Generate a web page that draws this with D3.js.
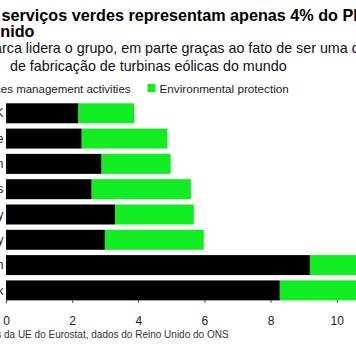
<!DOCTYPE html>
<html>
<head>
<meta charset="utf-8">
<script src="https://cdn.jsdelivr.net/npm/d3@7"></script>
<style>
  html, body { margin: 0; padding: 0; background: #fff; overflow: hidden; }
  svg { display: block; font-family: "Liberation Sans", Arial, sans-serif; }
</style>
</head>
<body>
<svg id="chart" width="356" height="364"></svg>
<script>
// ---- data ----
const categories = ["UK", "France", "Spain", "Netherlands", "Germany", "Italy", "Sweden", "Denmark"];
const resourceMgmt = [2.19, 2.29, 2.89, 2.59, 3.30, 2.99, 9.19, 8.28];
const envProtection = [1.69, 2.59, 2.09, 3.00, 2.38, 2.99, 1.80, 3.50];
const seriesNames = ["Resources management activities", "Environmental protection"];
const xTicks = [0, 2, 4, 6, 8, 10];
const titleLines = ["Os serviços verdes representam apenas 4% do PIB do Reino", "Unido"];
const subtitleLines = ["A Dinamarca lidera o grupo, em parte graças ao fato de ser uma das maiores bases", "de fabricação de turbinas eólicas do mundo"];
const sourceText = "Fonte: Dados da UE do Eurostat, dados do Reino Unido do ONS";

const colors = ["#000000", "#12ec22"];

const svg = d3.select("#chart");

const x = d3.scaleLinear().domain([0, 10]).range([6, 336.7]);
const y = d3.scaleBand().domain(categories).range([100.64, 303.04]).paddingInner(0.21).paddingOuter(0.105);

// helper: place text so that the visible part (after prefix) starts at visX
function cropped(str, prefixLen, visX, yPos, attrs) {
  const t = svg.append("text").attr("y", yPos).text(str);
  Object.entries(attrs).forEach(([k, v]) => t.style(k, v));
  const w = prefixLen > 0 ? t.node().getSubStringLength(0, prefixLen) : 0;
  t.attr("x", visX - w);
  return t;
}

// title
const titleStyle = {"font-size": "16.2px", "font-weight": "bold", "fill": "#000"};
cropped(titleLines[0], 3, 1.5, 21, titleStyle);
cropped(titleLines[1], 1, 0.3, 36.5, titleStyle);

// subtitle
const subStyle = {"font-size": "14.3px", "fill": "#111"};
cropped(subtitleLines[0], 8, 2, 53, subStyle);
cropped(subtitleLines[1], 0, 10, 71, subStyle);

// legend
const legStyle = {"font-size": "11.5px", "fill": "#222"};
const leg1 = cropped(seriesNames[0], 7, 0.8, 93, legStyle);
const l1x = +leg1.attr("x");
svg.append("rect").attr("x", l1x - 12).attr("y", 84).attr("width", 8).attr("height", 8).attr("fill", colors[0]);
svg.append("rect").attr("x", 147.5).attr("y", 84).attr("width", 8).attr("height", 8).attr("fill", colors[1]);
svg.append("text").attr("x", 159.5).attr("y", 93).text(seriesNames[1])
  .style("font-size", "11.7px").style("fill", "#222");

// bars
const stacked = categories.map((c, i) => ({c, a: resourceMgmt[i], b: envProtection[i]}));
svg.append("g").selectAll("rect").data(stacked).join("rect")
  .attr("x", d => x(0)).attr("y", d => y(d.c))
  .attr("width", d => x(d.a) - x(0)).attr("height", y.bandwidth())
  .attr("fill", colors[0]);
svg.append("g").selectAll("rect").data(stacked).join("rect")
  .attr("x", d => x(d.a)).attr("y", d => y(d.c))
  .attr("width", d => x(d.a + d.b) - x(d.a)).attr("height", y.bandwidth())
  .attr("fill", colors[1]);

// category labels
svg.append("g").selectAll("text").data(categories).join("text")
  .attr("x", 3.5).attr("y", d => y(d) + y.bandwidth() / 2).attr("dy", "0.35em")
  .attr("text-anchor", "end").style("font-size", "12px").style("fill", "#222")
  .text(d => d);

// x axis
const ax = svg.append("g").attr("transform", "translate(0,300)")
  .call(d3.axisBottom(x).tickValues(xTicks).tickSize(3).tickPadding(13).tickFormat(d3.format("d")));
ax.select(".domain").remove();
ax.selectAll(".tick line").attr("stroke", "#555");
ax.selectAll(".tick text").style("font-size", "12px").style("fill", "#222")
  .style("font-family", "'Liberation Sans', Arial, sans-serif");

// source
cropped(sourceText, 13, 4, 338, {"font-size": "10px", "fill": "#333"});
</script>
</body>
</html>
